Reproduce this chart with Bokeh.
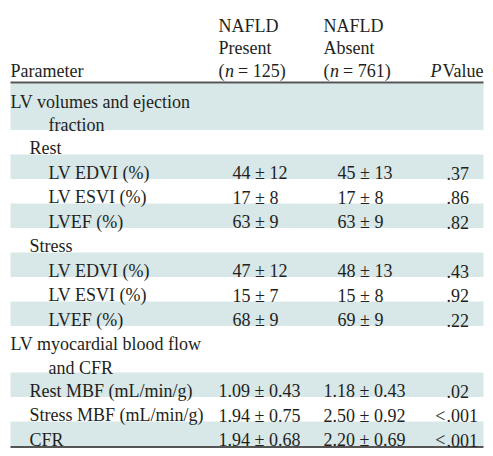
from bokeh.plotting import figure
from bokeh.models import Range1d, ColumnDataSource
from bokeh.core.properties import value
from bokeh.embed import file_html
from bokeh.resources import INLINE

# ---- data ----
parameters = ["LV volumes and ejection\nfraction", "Rest", "LV EDVI (%)", "LV ESVI (%)", "LVEF (%)",
              "Stress", "LV EDVI (%)", "LV ESVI (%)", "LVEF (%)",
              "LV myocardial blood flow\nand CFR", "Rest MBF (mL/min/g)", "Stress MBF (mL/min/g)", "CFR"]
levels = [0, 1, 2, 2, 2, 1, 2, 2, 2, 0, 1, 1, 1]
present = ["", "", "44 ± 12", "17 ± 8", "63 ± 9", "", "47 ± 12", "15 ± 7", "68 ± 9",
           "", "1.09 ± 0.43", "1.94 ± 0.75", "1.94 ± 0.68"]
absent = ["", "", "45 ± 13", "17 ± 8", "63 ± 9", "", "48 ± 13", "15 ± 8", "69 ± 9",
          "", "1.18 ± 0.43", "2.50 ± 0.92", "2.20 ± 0.69"]
pvalues = ["", "", ".37", ".86", ".82", "", ".43", ".92", ".22", "", ".02", "<.001", "<.001"]
header_present = ["NAFLD", "Present", "125"]
header_absent = ["NAFLD", "Absent", "761"]

FONT = value("Liberation Serif")
FS = "18px"
TXT = "#231f20"
BAND = "#d8e7e8"
LINE = "#555555"

W, H = 485, 450
p = figure(width=W, height=H, x_range=Range1d(0, W), y_range=Range1d(H, 0),
           output_backend="svg", toolbar_location=None, min_border=0)
p.axis.visible = False
p.grid.visible = False
p.outline_line_color = None
p.background_fill_color = "white"
p.border_fill_color = "white"

LEFT, RIGHT = 10, 483
TOP0 = 83
LH = 23.5
SINGLE = 24.5

# row geometry
tops, bottoms = [], []
y = TOP0
for lab in parameters:
    n = lab.count("\n") + 1
    h = SINGLE if n == 1 else 46.5
    tops.append(y)
    bottoms.append(y + h)
    y += h

# bands
sh = [i for i in range(len(parameters)) if i % 2 == 0]
p.quad(left=[LEFT] * len(sh), right=[RIGHT] * len(sh),
       top=[tops[i] for i in sh], bottom=[bottoms[i] for i in sh],
       fill_color=BAND, line_color=None)

# rules
p.segment(x0=[LEFT, LEFT], x1=[RIGHT, RIGHT], y0=[82, bottoms[-1] + 1], y1=[82, bottoms[-1] + 1],
          line_color=LINE, line_width=2)

def txt(xs, ys, texts, align="left", style="normal"):
    src = ColumnDataSource(dict(x=xs, y=ys, t=texts))
    p.text(x="x", y="y", text="t", source=src, text_font=FONT, text_font_size=FS,
           text_color=TXT, text_align=align, text_baseline="alphabetic", text_font_style=style)

# parameter labels
indent = {0: 10, 1: 29, 2: 48}
lx, ly, lt = [], [], []
for i, lab in enumerate(parameters):
    for k, line in enumerate(lab.split("\n")):
        lx.append(indent[levels[i]] if k == 0 else 48)
        ly.append(tops[i] + 18 + k * LH)
        lt.append(line)
txt(lx, ly, lt)

# values
def vcol(vals, base):
    xs, ys, ts = [], [], []
    for i, v in enumerate(vals):
        if v:
            xs.append(base if "." in v else base + 14)
            ys.append(tops[i] + 18.5)
            ts.append(v)
    txt(xs, ys, ts)

vcol(present, 218)
vcol(absent, 323)

DEC = 446
px, py, pt, qx, qy, qt = [], [], [], [], [], []
for i, v in enumerate(pvalues):
    if v:
        j = v.index(".")
        if j > 0:
            qx.append(DEC - 1); qy.append(tops[i] + 18.5); qt.append(v[:j])
        px.append(DEC); py.append(tops[i] + 18.5); pt.append(v[j:])
txt(px, py, pt)
txt(qx, qy, qt, align="right")

# header
hb = [25.5, 47.5, 70]
txt([10], [hb[2]], ["Parameter"])
for base, hdr in ((218, header_present), (323, header_absent)):
    txt([base, base], hb[:2], hdr[:2])
    txt([base], [hb[2]], ["("])
    txt([base + 6.5], [hb[2]], ["n"], style="italic")
    txt([base + 19.5], [hb[2]], ["= " + hdr[2] + ")"])
txt([441], [hb[2]], ["P"], align="right", style="italic")
txt([RIGHT], [hb[2]], ["Value"], align="right")

open("out.html", "w").write(file_html(p, INLINE))
